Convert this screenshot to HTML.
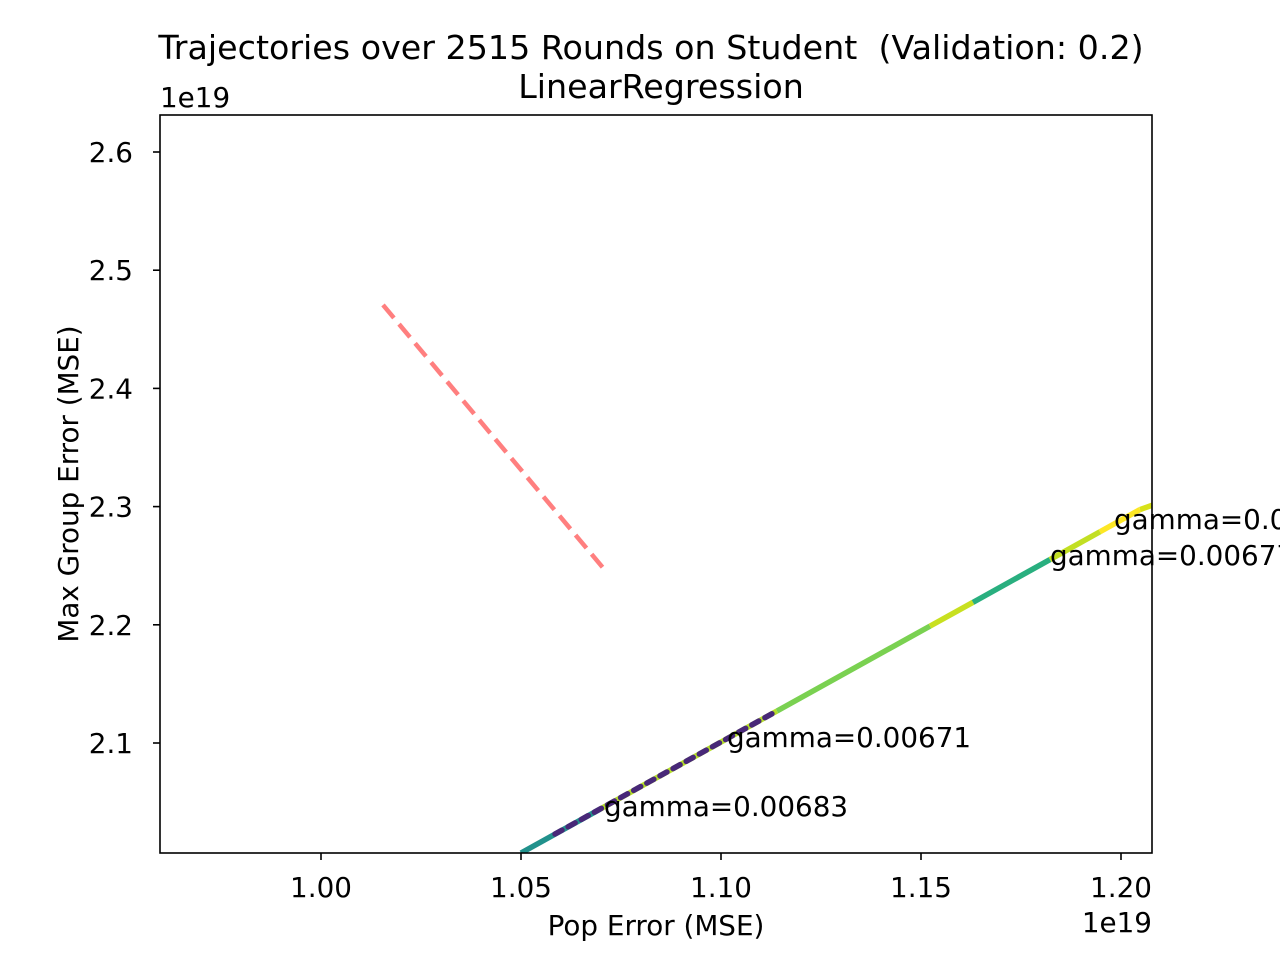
<!DOCTYPE html>
<html><head><meta charset="utf-8"><style>
html,body{margin:0;padding:0;background:#fff;}
svg text{font-family:"DejaVu Sans","Liberation Sans",sans-serif;fill:#000;}
</style></head><body>
<svg id="chart" width="1280" height="960" xmlns="http://www.w3.org/2000/svg">
<defs><clipPath id="plotclip"><rect x="160" y="115" width="992" height="738"/></clipPath></defs>
<text x="651" y="59" font-size="33.3" text-anchor="middle" style="white-space:pre">Trajectories over 2515 Rounds on Student&#160; (Validation: 0.2)</text>
<text x="661" y="98" font-size="33.3" text-anchor="middle">LinearRegression</text>
<g id="marks" clip-path="url(#plotclip)"></g>
<g id="axes"></g>
<rect x="160" y="115" width="992" height="738" fill="none" stroke="#000" stroke-width="1.6"/>
<g id="labels"></g>
<text x="656" y="935" font-size="27.8" text-anchor="middle">Pop Error (MSE)</text>
<text transform="translate(78,484) rotate(-90)" font-size="27.8" text-anchor="middle">Max Group Error (MSE)</text>
<text x="160" y="107" font-size="27.8">1e19</text>
<text x="1152" y="932" font-size="27.8" text-anchor="end">1e19</text>
</svg>
<script>
const xTicks=[1.00,1.05,1.10,1.15,1.20];
const xTickLabels=["1.00","1.05","1.10","1.15","1.20"];
const yTicks=[2.1,2.2,2.3,2.4,2.5,2.6];
const yTickLabels=["2.1","2.2","2.3","2.4","2.5","2.6"];
const trajX=[1.05,1.06975,1.114,1.15225,1.163,1.18225,1.19475,1.20475,1.215];
const trajY=[2.00694,2.044,2.1271,2.1989,2.2190,2.2552,2.2787,2.2975,2.3097];
const trajColors=["#21918c","#b5de2b","#7ad151","#c8e020","#29af7f","#c2df23","#fde725","#d8e219"];
const dashX=[1.0585,1.114];
const dashY=[2.023,2.1271];
const refX=[1.0155,1.07075];
const refY=[2.4706,2.2472];
const annX=[1.07075,1.1015,1.18225,1.19825];
const annY=[2.0467,2.1051,2.2591,2.2895];
const annText=["gamma=0.00683","gamma=0.00671","gamma=0.00677","gamma=0.00689"];
const X=v=>321+(v-1.0)*4000;
const Y=v=>743-(v-2.1)*1182;
const NS="http://www.w3.org/2000/svg";
function mk(tag,attrs,parent){const e=document.createElementNS(NS,tag);for(const k in attrs)e.setAttribute(k,attrs[k]);parent.appendChild(e);return e;}
const marks=document.getElementById('marks'),axes=document.getElementById('axes'),labels=document.getElementById('labels');
for(let i=0;i<trajColors.length;i++){
  const l=mk('line',{x1:X(trajX[i]),y1:Y(trajY[i]),x2:X(trajX[i+1]),y2:Y(trajY[i+1]),stroke:trajColors[i],'stroke-width':5.5},marks);
  
  
}
const d=mk('line',{x1:X(dashX[0]),y1:Y(dashY[0]),x2:X(dashX[1]),y2:Y(dashY[1]),stroke:'#482878','stroke-width':5.5,'stroke-dasharray':'8 7','stroke-linecap':'round'},marks);


const r=mk('line',{x1:X(refX[0]),y1:Y(refY[0]),x2:X(refX[1]),y2:Y(refY[1]),stroke:'#ff7f7f','stroke-width':4.5,'stroke-dasharray':'17 8'},marks);


xTicks.forEach((v,i)=>{
  const t=mk('line',{x1:X(v),x2:X(v),y1:853,y2:860,stroke:'#000','stroke-width':1.6},axes);
  
  
  const tx=mk('text',{x:X(v),y:897,'font-size':27.8,'text-anchor':'middle'},axes);
  tx.textContent=xTickLabels[i];
  
  
});
yTicks.forEach((v,i)=>{
  const t=mk('line',{x1:153,x2:160,y1:Y(v),y2:Y(v),stroke:'#000','stroke-width':1.6},axes);
  
  
  const tx=mk('text',{x:133,y:Y(v)+10,'font-size':27.8,'text-anchor':'end'},axes);
  tx.textContent=yTickLabels[i];
  
  
});
annText.forEach((s,i)=>{
  const tx=mk('text',{x:X(annX[i]),y:Y(annY[i])+10,'font-size':27.8},labels);
  tx.textContent=s;
  
  
});
</script>
</body></html>
